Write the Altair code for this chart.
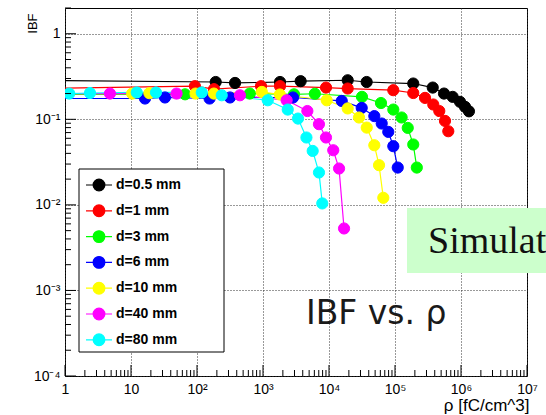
import altair as alt
import pandas as pd

# ---------------- data ----------------
series_names = ["d=0.5 mm", "d=1 mm", "d=3 mm", "d=6 mm", "d=10 mm", "d=40 mm", "d=80 mm"]
series_colors = ["#000000", "#ff0000", "#00ff00", "#0000ff", "#ffff00", "#ff00ff", "#00ffff"]

rho_05 = [0.5, 192, 377, 1810, 3720, 19200, 37200, 189000, 373000, 553000, 748000, 966000, 1150000, 1320000]
ibf_05 = [0.285, 0.273, 0.266, 0.273, 0.279, 0.286, 0.273, 0.262, 0.235, 0.200, 0.183, 0.160, 0.140, 0.124]

rho_1 = [0.5, 93, 181, 933, 1810, 9020, 19200, 94200, 189000, 285000, 380000, 469000, 572000, 642000]
ibf_1 = [0.229, 0.244, 0.225, 0.244, 0.244, 0.235, 0.229, 0.219, 0.203, 0.178, 0.149, 0.125, 0.0958, 0.0726]

rho_3 = [0.5, 66, 630, 2950, 6100, 31600, 61300, 94300, 126000, 156000, 189000, 214000]
ibf_3 = [0.195, 0.196, 0.200, 0.196, 0.199, 0.183, 0.155, 0.130, 0.105, 0.0794, 0.0508, 0.0273]

rho_6 = [0.5, 16.3, 32.7, 155, 316, 2850, 15600, 31300, 48600, 62900, 79100, 94300, 110000]
ibf_6 = [0.175, 0.175, 0.180, 0.175, 0.180, 0.180, 0.164, 0.136, 0.109, 0.0893, 0.0713, 0.0485, 0.0273]

rho_10 = [0.5, 10.4, 19, 95, 180, 960, 1800, 9230, 19200, 28500, 37300, 48600, 57300, 66500]
ibf_10 = [0.200, 0.200, 0.202, 0.200, 0.200, 0.209, 0.195, 0.167, 0.134, 0.105, 0.080, 0.0498, 0.0291, 0.0121]

rho_40 = [0.5, 4.8, 49, 447, 2280, 4700, 7040, 9000, 11600, 14200, 16900]
ibf_40 = [0.200, 0.200, 0.200, 0.191, 0.167, 0.125, 0.0877, 0.0613, 0.0435, 0.0266, 0.0053]

rho_80 = [1.16, 2.39, 12.2, 23.9, 118, 237, 1180, 2370, 3390, 4550, 5660, 7050, 7910]
ibf_80 = [0.200, 0.203, 0.206, 0.206, 0.206, 0.191, 0.167, 0.130, 0.102, 0.0613, 0.0427, 0.0239, 0.0104]

x_tick_values = [1, 10, 100, 1e3, 1e4, 1e5, 1e6, 1e7]
x_tick_labels = ["1", "10", "10²", "10³", "10⁴", "10⁵", "10⁶", "10⁷"]
y_tick_values = [1e-4, 1e-3, 1e-2, 1e-1, 1]
y_tick_labels = ["10⁻⁴", "10⁻³", "10⁻²", "10⁻¹", "1"]
minor_multipliers = [2, 3, 4, 5, 6, 7, 8, 9]

x_title = "ρ [fC/cm^3]"
y_title = "IBF"
overlay_title = "IBF vs. ρ"
overlay_box_text = "Simulation"

# ---------------- tables ----------------
rho_lists = [rho_05, rho_1, rho_3, rho_6, rho_10, rho_40, rho_80]
ibf_lists = [ibf_05, ibf_1, ibf_3, ibf_6, ibf_10, ibf_40, ibf_80]
rows = []
for s, (name, xs, ys) in enumerate(zip(series_names, rho_lists, ibf_lists)):
    for i, (x, y) in enumerate(zip(xs, ys)):
        rows.append({"series": name, "rho": x, "ibf": y, "i": i, "s": s})
df = pd.DataFrame(rows)

x_minor = [m * v for v in x_tick_values[:-1] for m in minor_multipliers]
y_minor = [m * v for v in y_tick_values for m in minor_multipliers if m * v <= 2]

W, H = 462, 368
xscale = alt.Scale(type="log", domain=[1, 1e7], nice=False)
yscale = alt.Scale(type="log", domain=[1e-4, 2], nice=False)
cscale = alt.Scale(domain=series_names, range=series_colors)

FONT = "Liberation Sans"
x_expr = "[" + ",".join("'%s'" % t for t in x_tick_labels) + "][round(log(datum.value)/LN10)]"
y_expr = "[" + ",".join("'%s'" % t for t in y_tick_labels) + "][round(log(datum.value)/LN10)+4]"

x_axis = alt.Axis(values=x_tick_values, labelExpr=x_expr, ticks=False, domain=False,
                  grid=True, gridDash=[1, 2], gridColor="#333", gridWidth=1,
                  labelFont=FONT, labelFontSize=14, labelColor="black", labelPadding=6,
                  labelFlush=False, labelOverlap=False,
                  title=x_title, titleFont=FONT, titleFontSize=17, titleFontWeight="normal",
                  titleColor="black", titleAnchor="end", titleAlign="right",
                  titleX=W + 2, titleY=34, titleBaseline="alphabetic")
y_axis = alt.Axis(values=y_tick_values, labelExpr=y_expr, ticks=False, domain=False,
                  grid=True, gridDash=[1, 2], gridColor="#333", gridWidth=1,
                  labelFont=FONT, labelFontSize=14, labelColor="black", labelPadding=5,
                  labelFlush=False, labelOverlap=False,
                  title=y_title, titleFont=FONT, titleFontSize=13, titleFontWeight="normal",
                  titleColor="black", titleAngle=-90, titleAlign="right", titleBaseline="middle",
                  titleX=-33, titleY=5)

SYMBOL = "M-1,0H1M-0.45,0A0.45,0.45,0,1,1,0.45,0A0.45,0.45,0,1,1,-0.45,0Z"
legend = alt.Legend(title=None, orient="none", legendX=20, legendY=163,
                    symbolType=SYMBOL, symbolSize=676, symbolStrokeWidth=1.2,
                    symbolOpacity=1, labelFont=FONT, labelFontWeight="bold",
                    labelFontSize=14, labelColor="black", labelOffset=3,
                    rowPadding=2.8, padding=0)

base = alt.Chart(df)

lines = base.mark_line(strokeWidth=1.2, clip=True).encode(
    x=alt.X("rho:Q", scale=xscale, axis=x_axis),
    y=alt.Y("ibf:Q", scale=yscale, axis=y_axis),
    stroke=alt.Stroke("series:N", scale=cscale, legend=legend, sort=series_names),
    order="i:O",
    detail="series:N",
)
points = base.mark_point(filled=True, size=125, opacity=1, strokeWidth=1, clip=True).encode(
    x=alt.X("rho:Q", scale=xscale),
    y=alt.Y("ibf:Q", scale=yscale),
    fill=alt.Fill("series:N", scale=cscale, legend=legend, sort=series_names),
    stroke=alt.Stroke("series:N", scale=cscale, legend=legend, sort=series_names),
    order="s:O",
)

xminor = alt.Chart(pd.DataFrame({"v": x_minor})).mark_rule(color="black", strokeWidth=1).encode(
    x=alt.X("v:Q", scale=xscale), y=alt.value(H), y2=alt.value(H - 6))
xmajor = alt.Chart(pd.DataFrame({"v": x_tick_values})).mark_rule(color="black", strokeWidth=1).encode(
    x=alt.X("v:Q", scale=xscale), y=alt.value(H), y2=alt.value(H - 11))
yminor = alt.Chart(pd.DataFrame({"v": y_minor})).mark_rule(color="black", strokeWidth=1).encode(
    y=alt.Y("v:Q", scale=yscale), x=alt.value(0), x2=alt.value(6))
ymajor = alt.Chart(pd.DataFrame({"v": y_tick_values})).mark_rule(color="black", strokeWidth=1).encode(
    y=alt.Y("v:Q", scale=yscale), x=alt.value(0), x2=alt.value(11))

legend_box = alt.Chart(pd.DataFrame({"k": [0]})).mark_rect(
    fill="white", stroke="black", strokeWidth=1).encode(
    x=alt.value(14), x2=alt.value(159), y=alt.value(161), y2=alt.value(344))

green_box = alt.Chart(pd.DataFrame({"k": [0]})).mark_rect(fill="#ccffcc").encode(
    x=alt.value(342), x2=alt.value(490), y=alt.value(200), y2=alt.value(265))
green_text = alt.Chart(pd.DataFrame({"t": [overlay_box_text]})).mark_text(
    font="Liberation Serif", fontSize=38, color="#111", align="left", baseline="alphabetic").encode(
    text="t:N", x=alt.value(363), y=alt.value(245))
title_text = alt.Chart(pd.DataFrame({"t": [overlay_title]})).mark_text(
    font="DejaVu Sans", fontSize=33, color="#1a1a1a", align="left", baseline="alphabetic").encode(
    text="t:N", x=alt.value(241), y=alt.value(316))

chart = alt.layer(
    lines, points, xminor, xmajor, yminor, ymajor, legend_box, green_box, green_text, title_text
).properties(
    width=W, height=H,
    autosize=alt.AutoSizeParams(type="none"),
    padding={"left": 65, "top": 8, "right": 19, "bottom": 39},
    background="white",
).configure_view(stroke="black", strokeWidth=1)

chart.save("out.html", embed_options={"renderer": "svg", "actions": False})
